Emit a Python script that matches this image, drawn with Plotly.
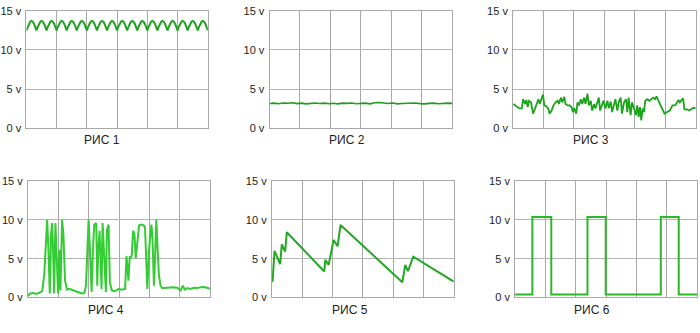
import plotly.graph_objects as go

# ---------------- data ----------------
Y_TICKS = [0, 5, 10, 15]
Y_TICK_TEXT = ["0 v", "5 v", "10 v", "15 v"]
TITLES = ["РИС 1", "РИС 2", "РИС 3", "РИС 4", "РИС 5", "РИС 6"]

# Panel 1: full-wave rectified ripple (one arch profile, 18 arches over 60 time units)
p1_arch = [12.5, 12.96, 13.35, 13.61, 13.7, 13.61, 13.35, 12.96]
p1_arches = 18

# Panel 2: nearly flat line
p2_t = [0, 1.5, 3, 4.5, 6, 7.5, 9, 10.5, 12, 13.5, 15, 16.5, 18, 19.5, 21, 22.5, 24, 25.5, 27,
        28.5, 30, 31.5, 33, 34.5, 36, 37.5, 39, 40.5, 42, 43.5, 45, 46.5, 48, 49.5, 51, 52.5,
        54, 55.5, 57, 58.5, 60]
p2_v = [3.15, 3.2, 3.12, 3.22, 3.18, 3.25, 3.14, 3.2, 3.1, 3.18, 3.22, 3.15, 3.2, 3.12, 3.18,
        3.1, 3.2, 3.16, 3.22, 3.12, 3.18, 3.2, 3.1, 3.25, 3.28, 3.2, 3.15, 3.22, 3.1, 3.15,
        3.18, 3.26, 3.22, 3.14, 3.1, 3.16, 3.2, 3.12, 3.18, 3.2, 3.16]

# Panel 3: noisy signal
p3_t = [0, 0.65, 1.96, 2.84, 3.27, 3.93, 4.36, 4.8, 5.24, 5.89, 6.55, 7.2, 7.85, 8.29, 8.73,
        9.16, 9.82, 10.25, 10.91, 11.56, 12.0, 12.65, 13.31, 13.96, 14.62, 15.05, 15.71, 16.15,
        16.8, 17.24, 17.89, 18.55, 19.2, 19.64, 20.07, 20.73, 21.16, 21.6, 22.25, 22.69, 23.35,
        23.78, 24.44, 24.87, 25.53, 25.96, 26.62, 27.05, 27.71, 28.15, 28.58, 29.24, 29.67,
        30.33, 30.98, 31.42, 32.07, 32.51, 33.16, 33.6, 34.25, 34.69, 35.35, 35.78, 36.44,
        37.09, 37.53, 37.96, 38.62, 39.05, 39.71, 40.36, 40.8, 41.24, 41.67, 42.11, 42.55,
        42.98, 43.42, 44.07, 44.73, 45.38, 46.04, 46.69, 47.13, 47.78, 48.87, 49.75, 50.62,
        51.49, 52.36, 53.24, 53.89, 54.33, 54.76, 55.42, 55.85, 56.29, 57.16, 57.82, 58.69,
        59.35, 60]
p3_v = [3.08, 2.9, 2.55, 2.5, 3.7, 3.1, 3.6, 2.7, 3.5, 3.3, 1.85, 2.5, 3.3, 3.7, 3.1, 3.7,
        4.3, 2.9, 2.8, 2.5, 1.85, 2.25, 2.95, 3.3, 3.5, 3.1, 3.9, 3.3, 4.0, 3.1, 2.9, 2.9, 2.7,
        2.05, 2.55, 1.85, 3.3, 2.9, 3.7, 3.1, 3.9, 3.1, 4.4, 2.9, 3.5, 2.25, 3.1, 2.5, 3.3, 3.9,
        2.25, 3.1, 3.5, 2.5, 3.5, 2.55, 3.4, 2.05, 3.3, 3.7, 2.25, 3.3, 3.9, 1.85, 3.3, 3.7,
        2.05, 3.9, 1.65, 3.3, 2.5, 1.65, 2.9, 1.45, 2.7, 1.0, 2.5, 2.05, 3.5, 3.7, 3.5, 3.7,
        3.9, 3.7, 4.05, 3.5, 2.7, 1.85, 2.05, 2.25, 2.9, 2.9, 3.3, 3.6, 3.3, 3.7, 3.8, 2.4, 2.4,
        2.25, 2.5, 2.6, 2.55]

# Panel 4: bursts
p4_px = [75, 82, 90, 100, 110, 118, 124, 128, 133, 137, 141, 145, 148, 151, 154, 158, 162,
         166, 170, 173, 178, 182, 187, 193, 200, 210, 225, 238, 245, 250, 254, 258, 262, 267,
         271, 275, 278, 281, 284, 287, 291, 294, 297, 300, 305, 310, 313, 318, 322, 328, 335,
         342, 348, 358, 368, 372, 375, 378, 382, 385, 388, 392, 396, 400, 403, 406, 410, 418,
         424, 428, 432, 435, 440, 447, 450, 455, 458, 462, 466, 470, 475, 480, 495, 510, 525,
         535, 542, 548, 556, 565, 575, 585, 595, 605, 615, 625]
p4_v = [0.2, 0.5, 0.58, 0.46, 0.62, 0.8, 2.8, 6.1, 10.0, 6.1, 0.5, 8.2, 9.6, 6.1, 0.5, 9.6,
        4.85, 0.5, 6.1, 0.9, 10.0, 8.2, 2.15, 1.0, 1.1, 0.9, 0.7, 0.5, 0.58, 1.5, 6.1, 10.0,
        6.1, 0.7, 6.1, 9.4, 9.5, 9.6, 1.5, 6.1, 8.6, 5.3, 1.1, 9.6, 5.7, 0.7, 8.6, 9.4, 1.95,
        0.9, 0.8, 0.9, 1.1, 1.0, 1.1, 5.35, 4.0, 2.15, 5.3, 5.05, 5.5, 8.6, 8.2, 5.05, 6.3,
        7.55, 9.3, 9.4, 9.3, 9.0, 4.85, 1.1, 6.1, 9.4, 8.2, 1.5, 4.85, 10.0, 6.1, 2.8, 1.45,
        1.2, 1.25, 1.3, 1.25, 0.9, 1.5, 1.0, 1.2, 1.1, 1.25, 1.2, 1.3, 1.35, 1.25, 1.1]
p4_t = [round((x - 75) * 60 / 550, 2) for x in p4_px]

# Panel 5: sawtooth-like charge / discharge
p5_t = [0.22, 0.88, 2.74, 3.29, 4.38, 4.93, 17.3, 17.63, 18.73, 20.37, 21.68, 22.67, 43.03,
        44.01, 44.89, 46.64, 60]
p5_v = [2.0, 6.0, 4.3, 6.85, 5.9, 8.4, 3.35, 4.85, 4.2, 7.4, 6.6, 9.35, 1.95, 4.2, 3.4, 5.25,
        2.05]

# Panel 6: square pulses
p6_t = [0, 5.68, 11.91, 23.83, 29.84, 47.98, 53.88, 60]
p6_v = [0.37, 10.36, 0.37, 10.36, 0.37, 10.36, 0.37, 0.37]

# build panel 1 series from the arch profile
p1_v = (p1_arch * p1_arches) + [p1_arch[0]]
n1 = len(p1_v)
p1_t = [i * 60 / (n1 - 1) for i in range(n1)]

series = [
    (p1_t, p1_v, "#1fa31f", 2.0),
    (p2_t, p2_v, "#1f9c1f", 1.6),
    (p3_t, p3_v, "#1aa51a", 1.8),
    (p4_t, p4_v, "#33cc33", 2.0),
    (p5_t, p5_v, "#22a822", 2.0),
    (p6_t, p6_v, "#2bb82b", 2.0),
]

W, H = 700, 333
# plot rectangles in pixels (left, right, top, bottom)
rects = [
    (23.5, 205.7, 5, 126.7),
    (267.7, 451.0, 5, 126.7),
    (512.3, 695.7, 5, 126.7),
    (25.0, 208.3, 181.7, 302.3),
    (270.0, 452.7, 181.7, 302.3),
    (514.3, 697.3, 181.7, 302.3),
]
title_pos = [(99, 139), (345.7, 139), (590.7, 139), (103.3, 315.7), (348.3, 315.7), (591.7, 315.7)]

fig = go.Figure()
layout = dict(
    width=W, height=H, margin=dict(l=0, r=0, t=0, b=0),
    paper_bgcolor="white", plot_bgcolor="white", showlegend=False,
    font=dict(family="Liberation Sans, Arial, sans-serif", color="#222222", size=11),
)
annotations = []
for i, ((t, v, col, lw), (l, r, tp, bt), (tx, ty), title) in enumerate(zip(series, rects, title_pos, TITLES)):
    n = i + 1
    xa = "x" if n == 1 else f"x{n}"
    ya = "y" if n == 1 else f"y{n}"
    fig.add_trace(go.Scatter(
        x=t, y=v, mode="lines", xaxis=xa, yaxis=ya,
        line=dict(color=col, width=lw, shape="hv" if n == 6 else "linear"),
        hoverinfo="skip",
    ))
    xkey = "xaxis" if n == 1 else f"xaxis{n}"
    ykey = "yaxis" if n == 1 else f"yaxis{n}"
    layout[xkey] = dict(
        domain=[l / W, r / W], range=[0, 60], dtick=10, tick0=0,
        showticklabels=False, showgrid=True, gridcolor="#a8a8a8", gridwidth=1,
        showline=True, linecolor="#a8a8a8", linewidth=1, mirror=True,
        zeroline=False, anchor=ya, fixedrange=True,
    )
    layout[ykey] = dict(
        domain=[(H - bt) / H, (H - tp) / H], range=[0, 15],
        tickvals=Y_TICKS, ticktext=Y_TICK_TEXT, ticks="",
        tickfont=dict(size=11, color="#222222"),
        showgrid=True, gridcolor="#b4b4b4", gridwidth=1,
        showline=True, linecolor="#a8a8a8", linewidth=1, mirror=True,
        zeroline=False, anchor=xa, fixedrange=True, ticklabelstandoff=2,
    )
    annotations.append(dict(
        text=title, x=tx / W, y=(H - ty) / H, xref="paper", yref="paper",
        showarrow=False, xanchor="center", yanchor="middle",
        font=dict(size=12, color="#222222"),
    ))
layout["annotations"] = annotations
fig.update_layout(**layout)
fig.write_html("out.html")
